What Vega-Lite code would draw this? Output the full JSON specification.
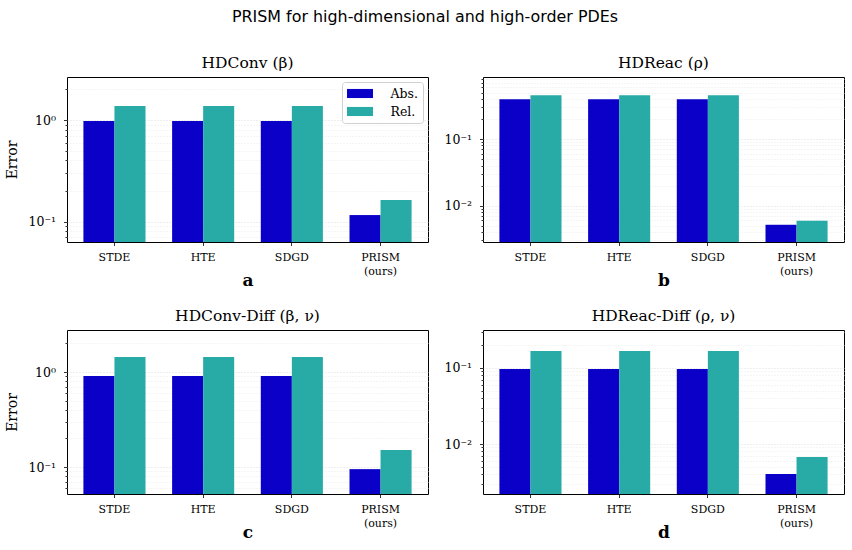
{
  "$schema": "https://vega.github.io/schema/vega-lite/v6.json",
  "padding": {"left": 5, "top": 9, "right": 6, "bottom": 2},
  "title": {
    "text": "PRISM for high-dimensional and high-order PDEs",
    "font": "DejaVu Sans",
    "fontSize": 15.9,
    "fontWeight": "normal",
    "color": "#000000",
    "anchor": "middle",
    "offset": 30
  },
  "data": {
    "values": [
      {"panel": "a", "method": "STDE", "kind": "Abs.", "error": 0.977},
      {"panel": "a", "method": "STDE", "kind": "Rel.", "error": 1.37},
      {"panel": "a", "method": "HTE", "kind": "Abs.", "error": 0.977},
      {"panel": "a", "method": "HTE", "kind": "Rel.", "error": 1.37},
      {"panel": "a", "method": "SDGD", "kind": "Abs.", "error": 0.977},
      {"panel": "a", "method": "SDGD", "kind": "Rel.", "error": 1.37},
      {"panel": "a", "method": "PRISM", "kind": "Abs.", "error": 0.116},
      {"panel": "a", "method": "PRISM", "kind": "Rel.", "error": 0.163},
      {"panel": "b", "method": "STDE", "kind": "Abs.", "error": 0.396},
      {"panel": "b", "method": "STDE", "kind": "Rel.", "error": 0.456},
      {"panel": "b", "method": "HTE", "kind": "Abs.", "error": 0.396},
      {"panel": "b", "method": "HTE", "kind": "Rel.", "error": 0.456},
      {"panel": "b", "method": "SDGD", "kind": "Abs.", "error": 0.396},
      {"panel": "b", "method": "SDGD", "kind": "Rel.", "error": 0.456},
      {"panel": "b", "method": "PRISM", "kind": "Abs.", "error": 0.00514},
      {"panel": "b", "method": "PRISM", "kind": "Rel.", "error": 0.00591},
      {"panel": "c", "method": "STDE", "kind": "Abs.", "error": 0.908},
      {"panel": "c", "method": "STDE", "kind": "Rel.", "error": 1.44},
      {"panel": "c", "method": "HTE", "kind": "Abs.", "error": 0.908},
      {"panel": "c", "method": "HTE", "kind": "Rel.", "error": 1.44},
      {"panel": "c", "method": "SDGD", "kind": "Abs.", "error": 0.908},
      {"panel": "c", "method": "SDGD", "kind": "Rel.", "error": 1.44},
      {"panel": "c", "method": "PRISM", "kind": "Abs.", "error": 0.095},
      {"panel": "c", "method": "PRISM", "kind": "Rel.", "error": 0.151},
      {"panel": "d", "method": "STDE", "kind": "Abs.", "error": 0.097},
      {"panel": "d", "method": "STDE", "kind": "Rel.", "error": 0.167},
      {"panel": "d", "method": "HTE", "kind": "Abs.", "error": 0.097},
      {"panel": "d", "method": "HTE", "kind": "Rel.", "error": 0.167},
      {"panel": "d", "method": "SDGD", "kind": "Abs.", "error": 0.097},
      {"panel": "d", "method": "SDGD", "kind": "Rel.", "error": 0.167},
      {"panel": "d", "method": "PRISM", "kind": "Abs.", "error": 0.00403},
      {"panel": "d", "method": "PRISM", "kind": "Rel.", "error": 0.00675}
    ]
  },
  "config": {
    "font": "DejaVu Serif",
    "view": {"stroke": "#000000", "strokeWidth": 1},
    "title": {"font": "DejaVu Serif", "fontSize": 15.5, "fontWeight": "normal", "color": "#000000", "offset": 6},
    "axis": {
      "domain": false,
      "labelFont": "DejaVu Serif",
      "labelFontSize": 11,
      "labelColor": "#000000",
      "tickColor": "#000000",
      "tickWidth": 0.8,
      "titleColor": "#000000"
    },
    "axisX": {
      "grid": false,
      "tickSize": 3.5,
      "labelAngle": 0,
      "labelPadding": 6,
      "labelLineHeight": 14,
      "titleFont": "DejaVu Serif",
      "titleFontSize": 17,
      "titleFontWeight": "bold",
      "titlePadding": -4
    },
    "axisY": {
      "grid": true,
      "gridDash": [1, 2],
      "gridWidth": 0.8,
      "labelFontSize": 12.5,
      "labelPadding": 8,
      "titleFont": "DejaVu Serif",
      "titleFontSize": 14,
      "titleFontWeight": "normal",
      "titlePadding": 8
    },
    "legend": {
      "orient": "top-right",
      "offset": 5,
      "padding": 5,
      "title": null,
      "fillColor": "#ffffff",
      "strokeColor": "#d0d0d0",
      "cornerRadius": 3,
      "labelFont": "DejaVu Serif",
      "labelFontSize": 12.5,
      "labelColor": "#000000",
      "rowPadding": 5,
      "symbolType": "M-2,-0.7H2V0.7H-2Z",
      "symbolSize": 169,
      "symbolOffset": 6.5,
      "symbolStrokeWidth": 0,
      "labelOffset": 24
    }
  },
  "resolve": {"legend": {"color": "independent"}},
  "spacing": 19,
  "vconcat": [
    {
      "spacing": 14,
      "resolve": {"legend": {"color": "independent"}},
      "hconcat": [
        {
          "width": 361,
          "height": 165,
          "title": "HDConv (β)",
          "transform": [{"filter": "datum.panel == 'a'"}],
          "mark": {"type": "bar"},
          "encoding": {
            "x": {
              "field": "method", "type": "nominal",
              "sort": ["STDE", "HTE", "SDGD", "PRISM"],
              "scale": {"paddingInner": 0.3, "paddingOuter": 0.185},
              "axis": {"title": "a", "labelExpr": "datum.label == 'PRISM' ? ['PRISM', '(ours)'] : datum.label"}
            },
            "xOffset": {"field": "kind", "type": "nominal", "sort": ["Abs.", "Rel."]},
            "y": {
              "field": "error", "type": "quantitative", "stack": null,
              "scale": {"type": "log", "domain": [0.063, 2.65], "nice": false},
              "axis": {
                "title": "Error",
                "values": [0.07, 0.08, 0.09, 0.1, 0.2, 0.3, 0.4, 0.5, 0.6, 0.7, 0.8, 0.9, 1, 2],
                "labelExpr": "abs(datum.value - 1) < 1e-9 ? '10⁰' : abs(datum.value - 0.1) < 1e-9 ? '10⁻¹' : abs(datum.value - 0.01) < 1e-9 ? '10⁻²' : ''",
                "tickSize": {"condition": {"test": "abs(log(datum.value) / LN10 - round(log(datum.value) / LN10)) < 1e-6", "value": 3.5}, "value": 2},
                "gridColor": {"condition": {"test": "abs(log(datum.value) / LN10 - round(log(datum.value) / LN10)) < 1e-6", "value": "#d4d4d4"}, "value": "#e4e4e4"}
              }
            },
            "color": {
              "field": "kind", "type": "nominal",
              "scale": {"domain": ["Abs.", "Rel."], "range": ["#0a00c8", "#28aba7"]},
              "legend": {"orient": "top-right"}
            }
          }
        },
        {
          "width": 361,
          "height": 165,
          "title": "HDReac (ρ)",
          "transform": [{"filter": "datum.panel == 'b'"}],
          "mark": {"type": "bar"},
          "encoding": {
            "x": {
              "field": "method", "type": "nominal",
              "sort": ["STDE", "HTE", "SDGD", "PRISM"],
              "scale": {"paddingInner": 0.3, "paddingOuter": 0.185},
              "axis": {"title": "b", "labelExpr": "datum.label == 'PRISM' ? ['PRISM', '(ours)'] : datum.label"}
            },
            "xOffset": {"field": "kind", "type": "nominal", "sort": ["Abs.", "Rel."]},
            "y": {
              "field": "error", "type": "quantitative", "stack": null,
              "scale": {"type": "log", "domain": [0.00283, 0.857], "nice": false},
              "axis": {
                "title": null,
                "values": [0.003, 0.004, 0.005, 0.006, 0.007, 0.008, 0.009, 0.01, 0.02, 0.03, 0.04, 0.05, 0.06, 0.07, 0.08, 0.09, 0.1, 0.2, 0.3, 0.4, 0.5, 0.6, 0.7, 0.8],
                "labelExpr": "abs(datum.value - 1) < 1e-9 ? '10⁰' : abs(datum.value - 0.1) < 1e-9 ? '10⁻¹' : abs(datum.value - 0.01) < 1e-9 ? '10⁻²' : ''",
                "tickSize": {"condition": {"test": "abs(log(datum.value) / LN10 - round(log(datum.value) / LN10)) < 1e-6", "value": 3.5}, "value": 2},
                "gridColor": {"condition": {"test": "abs(log(datum.value) / LN10 - round(log(datum.value) / LN10)) < 1e-6", "value": "#d4d4d4"}, "value": "#e4e4e4"}
              }
            },
            "color": {
              "field": "kind", "type": "nominal",
              "scale": {"domain": ["Abs.", "Rel."], "range": ["#0a00c8", "#28aba7"]},
              "legend": null
            }
          }
        }
      ]
    },
    {
      "spacing": 14,
      "resolve": {"legend": {"color": "independent"}},
      "hconcat": [
        {
          "width": 361,
          "height": 164,
          "title": "HDConv-Diff (β, ν)",
          "transform": [{"filter": "datum.panel == 'c'"}],
          "mark": {"type": "bar"},
          "encoding": {
            "x": {
              "field": "method", "type": "nominal",
              "sort": ["STDE", "HTE", "SDGD", "PRISM"],
              "scale": {"paddingInner": 0.3, "paddingOuter": 0.185},
              "axis": {"title": "c", "labelExpr": "datum.label == 'PRISM' ? ['PRISM', '(ours)'] : datum.label"}
            },
            "xOffset": {"field": "kind", "type": "nominal", "sort": ["Abs.", "Rel."]},
            "y": {
              "field": "error", "type": "quantitative", "stack": null,
              "scale": {"type": "log", "domain": [0.052, 2.77], "nice": false},
              "axis": {
                "title": "Error",
                "values": [0.06, 0.07, 0.08, 0.09, 0.1, 0.2, 0.3, 0.4, 0.5, 0.6, 0.7, 0.8, 0.9, 1, 2],
                "labelExpr": "abs(datum.value - 1) < 1e-9 ? '10⁰' : abs(datum.value - 0.1) < 1e-9 ? '10⁻¹' : abs(datum.value - 0.01) < 1e-9 ? '10⁻²' : ''",
                "tickSize": {"condition": {"test": "abs(log(datum.value) / LN10 - round(log(datum.value) / LN10)) < 1e-6", "value": 3.5}, "value": 2},
                "gridColor": {"condition": {"test": "abs(log(datum.value) / LN10 - round(log(datum.value) / LN10)) < 1e-6", "value": "#d4d4d4"}, "value": "#e4e4e4"}
              }
            },
            "color": {
              "field": "kind", "type": "nominal",
              "scale": {"domain": ["Abs.", "Rel."], "range": ["#0a00c8", "#28aba7"]},
              "legend": null
            }
          }
        },
        {
          "width": 361,
          "height": 164,
          "title": "HDReac-Diff (ρ, ν)",
          "transform": [{"filter": "datum.panel == 'd'"}],
          "mark": {"type": "bar"},
          "encoding": {
            "x": {
              "field": "method", "type": "nominal",
              "sort": ["STDE", "HTE", "SDGD", "PRISM"],
              "scale": {"paddingInner": 0.3, "paddingOuter": 0.185},
              "axis": {"title": "d", "labelExpr": "datum.label == 'PRISM' ? ['PRISM', '(ours)'] : datum.label"}
            },
            "xOffset": {"field": "kind", "type": "nominal", "sort": ["Abs.", "Rel."]},
            "y": {
              "field": "error", "type": "quantitative", "stack": null,
              "scale": {"type": "log", "domain": [0.0022, 0.316], "nice": false},
              "axis": {
                "title": null,
                "values": [0.003, 0.004, 0.005, 0.006, 0.007, 0.008, 0.009, 0.01, 0.02, 0.03, 0.04, 0.05, 0.06, 0.07, 0.08, 0.09, 0.1, 0.2, 0.3],
                "labelExpr": "abs(datum.value - 1) < 1e-9 ? '10⁰' : abs(datum.value - 0.1) < 1e-9 ? '10⁻¹' : abs(datum.value - 0.01) < 1e-9 ? '10⁻²' : ''",
                "tickSize": {"condition": {"test": "abs(log(datum.value) / LN10 - round(log(datum.value) / LN10)) < 1e-6", "value": 3.5}, "value": 2},
                "gridColor": {"condition": {"test": "abs(log(datum.value) / LN10 - round(log(datum.value) / LN10)) < 1e-6", "value": "#d4d4d4"}, "value": "#e4e4e4"}
              }
            },
            "color": {
              "field": "kind", "type": "nominal",
              "scale": {"domain": ["Abs.", "Rel."], "range": ["#0a00c8", "#28aba7"]},
              "legend": null
            }
          }
        }
      ]
    }
  ]
}
